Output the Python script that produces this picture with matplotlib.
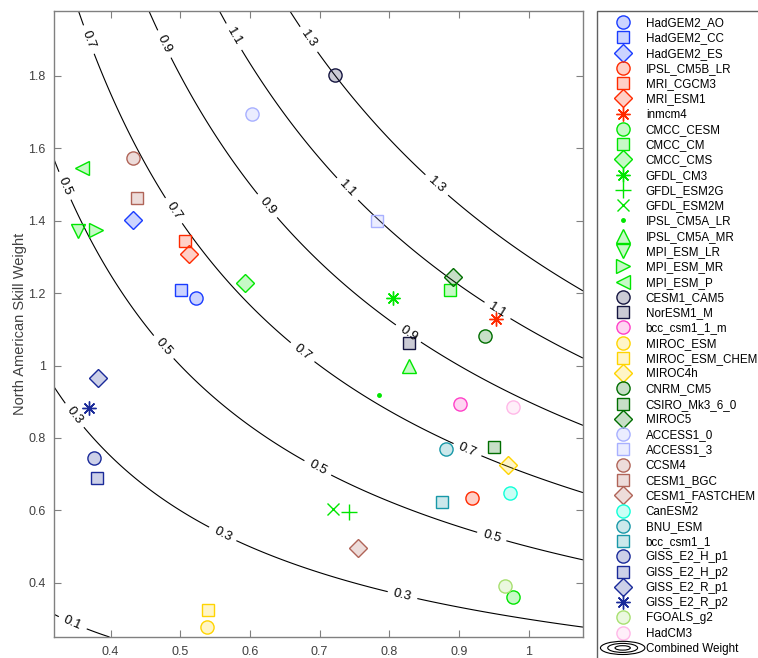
import numpy as np
import matplotlib
matplotlib.use("Agg")
import matplotlib.pyplot as plt
from matplotlib.legend_handler import HandlerBase
from matplotlib.patches import Ellipse
from matplotlib.lines import Line2D
from matplotlib.colors import to_rgb

plt.rcParams['font.family'] = ['Liberation Sans', 'DejaVu Sans']

models = ["HadGEM2_AO", "HadGEM2_CC", "HadGEM2_ES", "IPSL_CM5B_LR", "MRI_CGCM3", "MRI_ESM1",
          "inmcm4", "CMCC_CESM", "CMCC_CM", "CMCC_CMS", "GFDL_CM3", "GFDL_ESM2G", "GFDL_ESM2M",
          "IPSL_CM5A_LR", "IPSL_CM5A_MR", "MPI_ESM_LR", "MPI_ESM_MR", "MPI_ESM_P", "CESM1_CAM5",
          "NorESM1_M", "bcc_csm1_1_m", "MIROC_ESM", "MIROC_ESM_CHEM", "MIROC4h", "CNRM_CM5",
          "CSIRO_Mk3_6_0", "MIROC5", "ACCESS1_0", "ACCESS1_3", "CCSM4", "CESM1_BGC",
          "CESM1_FASTCHEM", "CanESM2", "BNU_ESM", "bcc_csm1_1", "GISS_E2_H_p1", "GISS_E2_H_p2",
          "GISS_E2_R_p1", "GISS_E2_R_p2", "FGOALS_g2", "HadCM3"]

global_skill = [0.522, 0.501, 0.432, 0.918, 0.507, 0.512, 0.953, 0.977, 0.887, 0.593, 0.805,
                0.742, 0.719, 0.785, 0.828, 0.353, 0.379, 0.359, 0.722, 0.828, 0.902, 0.538,
                0.540, 0.971, 0.938, 0.950, 0.892, 0.603, 0.782, 0.432, 0.438, 0.755, 0.973,
                0.881, 0.875, 0.376, 0.380, 0.382, 0.369, 0.966, 0.977]

na_skill = [1.187, 1.209, 1.402, 0.635, 1.344, 1.308, 1.129, 0.362, 1.209, 1.228, 1.187,
            0.597, 0.603, 0.919, 0.999, 1.371, 1.373, 1.544, 1.802, 1.062, 0.894, 0.279,
            0.326, 0.726, 1.082, 0.776, 1.244, 1.694, 1.399, 1.573, 1.462, 0.497, 0.648,
            0.770, 0.624, 0.745, 0.690, 0.966, 0.883, 0.392, 0.886]

markers = ['o', 's', 'D', 'o', 's', 'D', '*8', 'o', 's', 'D', '*8', '+', 'x', '.', '^', 'v', '>',
           '<', 'o', 's', 'o', 'o', 's', 'D', 'o', 's', 'D', 'o', 's', 'o', 's', 'D', 'o', 'o',
           's', 'o', 's', 'D', '*8', 'o', 'o']

colors = ['#1a3cff', '#1a3cff', '#1a3cff', '#ff2a00', '#ff2a00', '#ff2a00', '#ff2a00',
          '#00e600', '#00e600', '#00e600', '#00e600', '#00e600', '#00e600', '#00e600', '#00e600',
          '#00e600', '#00e600', '#00e600', '#151540', '#151540', '#ff40c8', '#ffd400', '#ffd400',
          '#ffd400', '#006e00', '#006e00', '#006e00', '#a8b0ff', '#a8b0ff', '#b06458', '#b06458',
          '#b06458', '#10ffd8', '#1898a8', '#1898a8', '#1a2a99', '#1a2a99', '#1a2a99', '#1a2a99',
          '#a8e070', '#ffb8e8']

contour_levels = [0.1, 0.3, 0.5, 0.7, 0.9, 1.1, 1.3]
label_positions = [(0.346, 0.292),
                   (0.345, 0.858), (0.560, 0.532), (0.819, 0.367),
                   (0.332, 1.494), (0.475, 1.049), (0.698, 0.720), (0.947, 0.528),
                   (0.367, 1.898), (0.489, 1.425), (0.676, 1.038), (0.912, 0.767),
                   (0.475, 1.885), (0.624, 1.439), (0.828, 1.090),
                   (0.576, 1.906), (0.739, 1.485), (0.954, 1.148),
                   (0.683, 1.898), (0.868, 1.498)]

xlim = (0.3187, 1.078)
ylim = (0.251, 1.978)

fig = plt.figure(figsize=(7.58, 6.58), dpi=100)
ax = fig.add_axes([54/758, 1-637/658, (583-54)/758, (637-11)/658])

gx = np.linspace(xlim[0], xlim[1], 400)
gy = np.linspace(ylim[0], ylim[1], 400)
GX, GY = np.meshgrid(gx, gy)
cs = ax.contour(GX, GY, GX*GY, levels=contour_levels, colors='k', linewidths=0.8)
ax.clabel(cs, manual=label_positions, inline=True, fontsize=9.5, fmt='%g', inline_spacing=6)

sizes = {'o': 9.5, 's': 8.0, 'D': 8.8, '*8': 10, '+': 11, 'x': 9, '.': 5,
         '^': 10.5, 'v': 10.5, '>': 10.5, '<': 10.5}

handles = []
for name, xv, yv, m, c in zip(models, global_skill, na_skill, markers, colors):
    mk = (8, 2, 0) if m == '*8' else m
    r, g, b = to_rgb(c)
    face = (r, g, b, 0.22) if m not in ('.',) else c
    h, = ax.plot([xv], [yv], ls='none', marker=mk, ms=sizes[m], mec=c, mfc=face,
                 mew=1.0, label=name, zorder=3)
    handles.append(h)

ax.set_xlim(*xlim)
ax.set_ylim(*ylim)
ax.set_xticks([0.4, 0.5, 0.6, 0.7, 0.8, 0.9, 1.0])
ax.set_xticklabels(['0.4', '0.5', '0.6', '0.7', '0.8', '0.9', '1'])
ax.set_yticks([0.4, 0.6, 0.8, 1.0, 1.2, 1.4, 1.6, 1.8])
ax.set_yticklabels(['0.4', '0.6', '0.8', '1', '1.2', '1.4', '1.6', '1.8'])
ax.tick_params(direction='in', length=5, width=0.8, top=True, right=True,
               labelsize=9, colors='#808080', labelcolor='#404040')
ax.tick_params(axis='x', pad=6.5)
ax.tick_params(axis='y', pad=6)
for s in ax.spines.values():
    s.set_color('#808080')
    s.set_linewidth(1.0)
ax.set_ylabel('North American Skill Weight', fontsize=10.5, color='#404040', labelpad=1)


class HandlerRings(HandlerBase):
    def create_artists(self, legend, orig_handle, xdescent, ydescent, width, height,
                       fontsize, trans):
        cx = width / 2 - xdescent
        cy = height / 2 - ydescent
        arts = []
        for w, hh in [(32, 9.5), (21.5, 6.5), (11, 3.2)]:
            e = Ellipse((cx, cy), w, hh, fill=False, ec='k', lw=0.8, transform=trans)
            arts.append(e)
        return arts


ring_proxy = Line2D([], [], color='k')
handles.append(ring_proxy)
labels = models + ['Combined Weight']
leg = fig.legend(handles, labels, loc='upper left', bbox_to_anchor=(597/758, 1-11/658),
                 bbox_transform=fig.transFigure, borderaxespad=0, fontsize=8.4,
                 handlelength=3.36, handletextpad=0.3, borderpad=0.52, labelspacing=0.28,
                 frameon=True, fancybox=False, edgecolor='#606060', framealpha=1,
                 handler_map={ring_proxy: HandlerRings()}, numpoints=1)
leg.get_frame().set_linewidth(1.0)

fig.savefig('out.png', dpi=100)
